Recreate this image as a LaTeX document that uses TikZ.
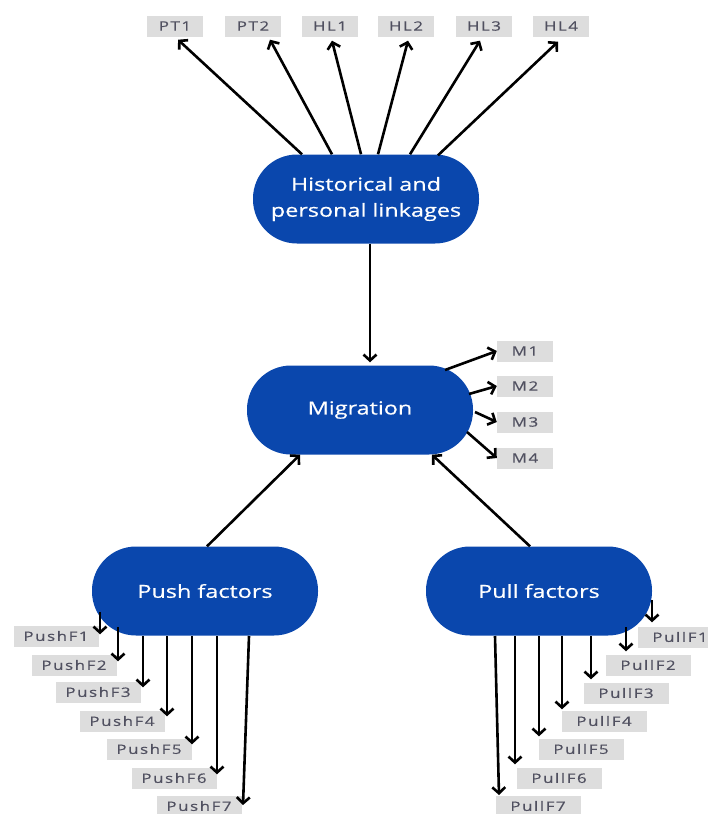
\documentclass[tikz,border=0pt]{standalone}
\usepackage{fontspec}
\setmainfont{Open Sans}
\newfontfamily\nodefont{Open Sans}[FakeStretch=1.3,FakeBold=0.6]
\newfontfamily\labfont{Open Sans}[FakeStretch=1.3,LetterSpace=12,FakeBold=0.5]
\usetikzlibrary{arrows.meta,calc}
\definecolor{nodeblue}{HTML}{0A47AD}
\definecolor{labgray}{HTML}{DDDDDD}
\definecolor{labtext}{HTML}{505060}
\begin{document}
\begin{tikzpicture}[x=1pt,y=-1pt,
  blob/.style={fill=nodeblue, rounded corners=44pt, minimum width=226pt, minimum height=89pt, text=white, font=\nodefont\fontsize{18}{26}\selectfont, align=center, inner sep=0pt},
  lab/.style={fill=labgray, text=labtext, font=\labfont\fontsize{13}{15}\selectfont, minimum height=21pt, inner sep=0pt},
  shortlab/.style={lab, minimum width=56pt},
  longlab/.style={lab, minimum width=85pt},
  arr/.style={-{Straight Barb[length=6pt,width=13pt,line width=2.6pt]}, line width=2.6pt, black}]
\useasboundingbox (0,0) rectangle (707,814);

% main nodes
\node[blob] (hist) at (366,199) {Historical and\\personal linkages};
\node[blob] (mig) at (360,410) {Migration};
\node[blob] (push) at (205,591) {Push factors};
\node[blob] (pull) at (539,591) {Pull factors};

% top labels
\node[shortlab] (PT1) at (175,26) {PT1};
\node[shortlab] (PT2) at (253,26) {PT2};
\node[shortlab] (HL1) at (330,26) {HL1};
\node[shortlab] (HL2) at (406,26) {HL2};
\node[shortlab] (HL3) at (484,26) {HL3};
\node[shortlab] (HL4) at (561,26) {HL4};

% migration labels
\node[shortlab] (M1) at (525,351) {M1};
\node[shortlab] (M2) at (525,386) {M2};
\node[shortlab] (M3) at (525,422) {M3};
\node[shortlab] (M4) at (525,458) {M4};

% push labels
\node[longlab] (PushF1) at (56,636) {PushF1};
\node[longlab] (PushF2) at (74,665) {PushF2};
\node[longlab] (PushF3) at (98,692) {PushF3};
\node[longlab] (PushF4) at (122,721) {PushF4};
\node[longlab] (PushF5) at (149,749) {PushF5};
\node[longlab] (PushF6) at (174,778) {PushF6};
\node[longlab] (PushF7) at (199,806) {PushF7};

% pull labels
\node[longlab] (PullF1) at (680,637) {PullF1};
\node[longlab] (PullF2) at (648,665) {PullF2};
\node[longlab] (PullF3) at (626,693) {PullF3};
\node[longlab] (PullF4) at (604,721) {PullF4};
\node[longlab] (PullF5) at (581,749) {PullF5};
\node[longlab] (PullF6) at (559,778) {PullF6};
\node[longlab] (PullF7) at (538,806) {PullF7};

% top arrows
\draw[arr] ([shift={(-64,0)}]hist.north) -- ([shift={(3,3)}]PT1.south);
\draw[arr] ([shift={(-34,0)}]hist.north) -- ([shift={(17,3)}]PT2.south);
\draw[arr] ([shift={(-5,0)}]hist.north) -- ([shift={(2,4)}]HL1.south);
\draw[arr] ([shift={(12,0)}]hist.north) -- ([shift={(2,4)}]HL2.south);
\draw[arr] ([shift={(44,0)}]hist.north) -- ([shift={(-4,4)}]HL3.south);
\draw[arr] ([shift={(72,1)}]hist.north) -- ([shift={(-3,5)}]HL4.south);

% hist -> migration
\draw[arr] ([shift={(4,0)}]hist.south) -- ([shift={(10,-3)}]mig.north);

% migration -> M
\draw[arr] ([shift={(85,-40)}]mig.center) -- (M1.west);
\draw[arr] ([shift={(109,-16)}]mig.center) -- (M2.west);
\draw[arr] ([shift={(115,2)}]mig.center) -- (M3.west);
\draw[arr] ([shift={(107,22)}]mig.center) -- (M4.west);

% push/pull -> migration
\draw[arr] ([shift={(2,0)}]push.north) -- ([shift={(-60,0)}]mig.south);
\draw[arr] ([shift={(-9,0)}]pull.north) -- ([shift={(72,0)}]mig.south);

% push factor arrows
\coordinate (ps1) at ([shift={(-105,21)}]push.center);
\coordinate (ps2) at ([shift={(-87,36)}]push.center);
\coordinate (ps3) at ([shift={(-62,45)}]push.center);
\coordinate (ps4) at ([shift={(-38,45)}]push.center);
\coordinate (ps5) at ([shift={(-13,45)}]push.center);
\coordinate (ps6) at ([shift={(12,45)}]push.center);
\coordinate (ps7) at ([shift={(44,45)}]push.center);
\draw[arr] (ps1) -- ($(ps1 |- PushF1.north)+(0,9)$);
\draw[arr] (ps2) -- ($(ps2 |- PushF2.north)+(0,7)$);
\draw[arr] (ps3) -- ($(ps3 |- PushF3.north)+(0,6)$);
\draw[arr] (ps4) -- ($(ps4 |- PushF4.north)+(0,6)$);
\draw[arr] (ps5) -- ($(ps5 |- PushF5.north)+(0,6)$);
\draw[arr] (ps6) -- ($(ps6 |- PushF6.north)+(0,7)$);
\draw[arr] (ps7) -- ([shift={(44,-1)}]PushF7.center);

% pull factor arrows
\coordinate (qs1) at ([shift={(113,9)}]pull.center);
\coordinate (qs2) at ([shift={(87,36)}]pull.center);
\coordinate (qs3) at ([shift={(52,45)}]pull.center);
\coordinate (qs4) at ([shift={(23,45)}]pull.center);
\coordinate (qs5) at ([shift={(0,45)}]pull.center);
\coordinate (qs6) at ([shift={(-24,45)}]pull.center);
\coordinate (qs7) at ([shift={(-44,45)}]pull.center);
\draw[arr] (qs1) -- ($(qs1 |- PullF1.north)+(0,-4)$);
\draw[arr] (qs2) -- ($(qs2 |- PullF2.north)+(0,-3)$);
\draw[arr] (qs3) -- ($(qs3 |- PullF3.north)+(0,-3)$);
\draw[arr] (qs4) -- ($(qs4 |- PullF4.north)+(0,-1)$);
\draw[arr] (qs5) -- ($(qs5 |- PullF5.north)+(0,-2)$);
\draw[arr] (qs6) -- ($(qs6 |- PullF6.north)+(0,-3)$);
\draw[arr] (qs7) -- ([shift={(-39,-11)}]PullF7.center);
\end{tikzpicture}
\end{document}
